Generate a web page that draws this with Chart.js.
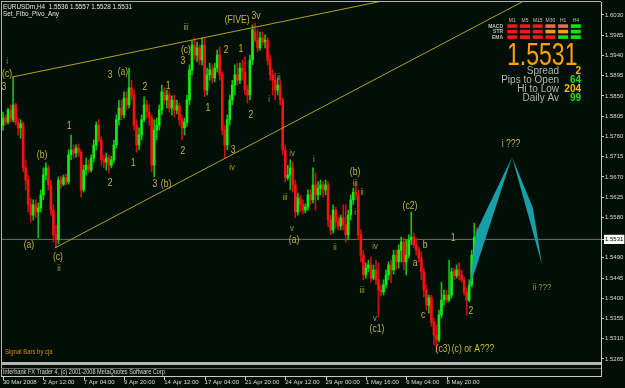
<!DOCTYPE html>
<html><head><meta charset="utf-8">
<script src="https://cdn.jsdelivr.net/npm/chart.js@4.4.1/dist/chart.umd.min.js"></script>
<style>html,body{margin:0;padding:0;background:#020f07;overflow:hidden}#wrap{width:625px;height:388px;position:relative}</style>
</head><body><div id="wrap"><canvas id="c" width="625" height="388"></canvas></div>
<script>
// ---- data (EURUSDm, H4) ----
const opens = [1.5785,1.5801,1.5792,1.5819,1.5797,1.5830,1.5792,1.5779,1.5788,1.5690,1.5663,1.5608,1.5585,1.5608,1.5592,1.5601,1.5630,1.5674,1.5690,1.5652,
1.5596,1.5541,1.5530,1.5663,1.5654,1.5668,1.5659,1.5719,1.5730,1.5723,1.5734,1.5725,1.5641,1.5685,1.5696,1.5685,1.5712,1.5741,1.5785,1.5752,
1.5708,1.5703,1.5712,1.5696,1.5708,1.5741,1.5797,1.5823,1.5808,1.5845,1.5830,1.5868,1.5852,1.5785,1.5741,1.5763,1.5797,1.5830,1.5814,1.5801,
1.5696,1.5774,1.5785,1.5819,1.5859,1.5841,1.5852,1.5823,1.5841,1.5819,1.5828,1.5797,1.5779,1.5792,1.5841,1.5908,1.5963,1.5941,1.5957,1.5930,
1.5963,1.5863,1.5897,1.5908,1.5890,1.5912,1.5941,1.5897,1.5774,1.5741,1.5797,1.5841,1.5874,1.5897,1.5885,1.5912,1.5903,1.5863,1.5852,1.5930,
1.5992,1.5974,1.5957,1.5979,1.5970,1.5974,1.5930,1.5897,1.5885,1.5863,1.5874,1.5841,1.5730,1.5668,1.5674,1.5690,1.5652,1.5592,1.5623,1.5608,
1.5596,1.5603,1.5630,1.5619,1.5652,1.5630,1.5645,1.5652,1.5641,1.5652,1.5574,1.5552,1.5596,1.5570,1.5561,1.5579,1.5563,1.5541,1.5585,1.5619,
1.5636,1.5630,1.5541,1.5496,1.5452,1.5467,1.5474,1.5445,1.5463,1.5441,1.5418,1.5414,1.5430,1.5452,1.5474,1.5463,1.5496,1.5481,1.5507,1.5525,
1.5481,1.5496,1.5530,1.5536,1.5519,1.5507,1.5490,1.5459,1.5418,1.5385,1.5401,1.5347,1.5318,1.5307,1.5363,1.5396,1.5407,1.5396,1.5407,1.5459,
1.5450,1.5463,1.5452,1.5441,1.5414,1.5396,1.5430,1.5496,1.5536];
const highs = [1.5814,1.5808,1.5823,1.5830,1.5892,1.5834,1.5801,1.5797,1.5792,1.5708,1.5674,1.5623,1.5619,1.5619,1.5612,1.5641,1.5690,1.5701,1.5696,1.5663,
1.5608,1.5563,1.5670,1.5672,1.5674,1.5676,1.5730,1.5763,1.5741,1.5741,1.5743,1.5730,1.5696,1.5712,1.5708,1.5719,1.5752,1.5792,1.5797,1.5759,
1.5719,1.5723,1.5719,1.5716,1.5752,1.5808,1.5841,1.5841,1.5859,1.5859,1.5912,1.5885,1.5863,1.5797,1.5779,1.5808,1.5848,1.5841,1.5830,1.5808,
1.5797,1.5801,1.5830,1.5874,1.5868,1.5863,1.5859,1.5850,1.5852,1.5841,1.5834,1.5808,1.5801,1.5852,1.5919,1.5974,1.5979,1.5970,1.5963,1.5979,
1.5979,1.5912,1.5923,1.5919,1.5923,1.5952,1.5959,1.5903,1.5785,1.5808,1.5852,1.5885,1.5919,1.5923,1.5923,1.5930,1.5937,1.5874,1.5941,1.6008,
1.6012,1.5997,1.5992,1.5992,1.5986,1.5979,1.5941,1.5908,1.5901,1.5890,1.5885,1.5845,1.5741,1.5696,1.5708,1.5703,1.5663,1.5634,1.5630,1.5619,
1.5610,1.5641,1.5641,1.5690,1.5679,1.5659,1.5663,1.5659,1.5663,1.5659,1.5585,1.5608,1.5603,1.5581,1.5585,1.5608,1.5608,1.5596,1.5630,1.5645,
1.5659,1.5641,1.5552,1.5507,1.5479,1.5485,1.5492,1.5474,1.5485,1.5479,1.5430,1.5441,1.5463,1.5481,1.5485,1.5507,1.5507,1.5519,1.5536,1.5534,
1.5530,1.5541,1.5592,1.5545,1.5534,1.5514,1.5503,1.5467,1.5430,1.5407,1.5407,1.5356,1.5341,1.5374,1.5436,1.5418,1.5418,1.5485,1.5467,1.5467,
1.5474,1.5479,1.5463,1.5447,1.5423,1.5441,1.5507,1.5567,1.5557];
const lows = [1.5774,1.5785,1.5788,1.5792,1.5792,1.5785,1.5763,1.5756,1.5681,1.5641,1.5592,1.5570,1.5574,1.5579,1.5534,1.5592,1.5619,1.5663,1.5641,1.5585,
1.5525,1.5512,1.5521,1.5645,1.5650,1.5652,1.5654,1.5708,1.5712,1.5714,1.5716,1.5625,1.5636,1.5674,1.5679,1.5681,1.5703,1.5730,1.5748,1.5696,
1.5690,1.5685,1.5679,1.5690,1.5701,1.5734,1.5785,1.5797,1.5801,1.5819,1.5823,1.5841,1.5774,1.5725,1.5730,1.5752,1.5792,1.5801,1.5785,1.5681,
1.5670,1.5752,1.5774,1.5808,1.5830,1.5823,1.5814,1.5808,1.5803,1.5810,1.5785,1.5752,1.5763,1.5783,1.5830,1.5897,1.5930,1.5926,1.5919,1.5919,
1.5848,1.5852,1.5885,1.5879,1.5881,1.5903,1.5885,1.5763,1.5712,1.5730,1.5785,1.5830,1.5852,1.5874,1.5877,1.5885,1.5852,1.5834,1.5841,1.5919,
1.5970,1.5948,1.5952,1.5963,1.5957,1.5919,1.5885,1.5852,1.5841,1.5852,1.5830,1.5719,1.5659,1.5663,1.5641,1.5636,1.5579,1.5585,1.5592,1.5587,
1.5590,1.5596,1.5608,1.5612,1.5596,1.5619,1.5630,1.5625,1.5630,1.5559,1.5541,1.5545,1.5556,1.5552,1.5552,1.5552,1.5525,1.5530,1.5574,1.5608,
1.5619,1.5530,1.5481,1.5441,1.5445,1.5459,1.5436,1.5441,1.5430,1.5358,1.5405,1.5407,1.5423,1.5441,1.5434,1.5454,1.5463,1.5467,1.5481,1.5463,
1.5452,1.5490,1.5519,1.5512,1.5496,1.5481,1.5441,1.5403,1.5374,1.5367,1.5338,1.5296,1.5281,1.5303,1.5356,1.5385,1.5390,1.5392,1.5401,1.5441,
1.5445,1.5441,1.5436,1.5407,1.5363,1.5392,1.5425,1.5490,1.5528];
const closes = [1.5801,1.5792,1.5819,1.5801,1.5830,1.5792,1.5779,1.5788,1.5690,1.5663,1.5608,1.5585,1.5608,1.5592,1.5601,1.5630,1.5674,1.5690,1.5652,1.5596,
1.5541,1.5530,1.5663,1.5654,1.5668,1.5659,1.5719,1.5730,1.5723,1.5734,1.5725,1.5641,1.5685,1.5696,1.5685,1.5712,1.5741,1.5785,1.5752,1.5708,
1.5703,1.5712,1.5696,1.5708,1.5741,1.5797,1.5823,1.5808,1.5845,1.5830,1.5868,1.5852,1.5785,1.5741,1.5763,1.5797,1.5830,1.5814,1.5801,1.5696,
1.5774,1.5785,1.5819,1.5859,1.5841,1.5852,1.5823,1.5841,1.5819,1.5828,1.5797,1.5779,1.5792,1.5841,1.5908,1.5963,1.5941,1.5957,1.5930,1.5963,
1.5863,1.5897,1.5908,1.5890,1.5912,1.5941,1.5897,1.5774,1.5741,1.5797,1.5841,1.5874,1.5897,1.5885,1.5912,1.5903,1.5863,1.5852,1.5930,1.5997,
1.5974,1.5957,1.5979,1.5970,1.5974,1.5930,1.5897,1.5885,1.5863,1.5874,1.5841,1.5730,1.5668,1.5674,1.5690,1.5652,1.5592,1.5623,1.5608,1.5596,
1.5603,1.5630,1.5619,1.5652,1.5630,1.5645,1.5652,1.5641,1.5652,1.5574,1.5552,1.5596,1.5570,1.5561,1.5579,1.5563,1.5541,1.5585,1.5619,1.5636,
1.5630,1.5541,1.5496,1.5452,1.5467,1.5474,1.5445,1.5463,1.5441,1.5418,1.5414,1.5430,1.5452,1.5474,1.5463,1.5496,1.5481,1.5507,1.5525,1.5481,
1.5496,1.5530,1.5536,1.5519,1.5507,1.5490,1.5459,1.5418,1.5385,1.5401,1.5347,1.5318,1.5307,1.5363,1.5396,1.5407,1.5396,1.5407,1.5459,1.5450,
1.5463,1.5452,1.5441,1.5414,1.5396,1.5430,1.5496,1.5536,1.5531];

const dateTicks = ["30 Mar 2008","2 Apr 12:00","7 Apr 04:00","9 Apr 20:00","14 Apr 12:00","17 Apr 04:00","21 Apr 20:00","24 Apr 12:00","29 Apr 00:00","1 May 16:00","6 May 04:00","8 May 20:00"];
const dateTickBars = [0,16,32,48,64,80,96,112,128,144,160,176];
const priceTicks = [1.6030,1.5985,1.5940,1.5895,1.5850,1.5805,1.5760,1.5715,1.5670,1.5625,1.5580,1.5531,1.5490,1.5445,1.5400,1.5355,1.5310,1.5265];
const lastPrice = 1.5531;

// trendlines and projection fans (bar index, price)
const upperTrend = [{x:3.6,y:1.5892},{x:200,y:1.6118}];
const lowerTrend = [{x:20.6,y:1.5512},{x:210,y:1.6071}];
const fanUp = [{x:185.3,y:1.5427},{x:202.0,y:1.5714},{x:187.7,y:1.5547},{x:185.3,y:1.5427}];
const fanDown = [{x:202.0,y:1.5714},{x:213.9,y:1.5474},{x:210.3,y:1.5601},{x:202.0,y:1.5714}];

// wave labels: text, bar index, price, minor(1)/major(0)
const waveLabels = [
["i",1.6,1.5926,1],["(c)",1.6,1.5899,0],["3",0.4,1.5870,0],["(b)",15.5,1.5719,0],["(a)",10.3,1.5519,0],["(c)",21.8,1.5492,0],["ii",22.2,1.5467,1],
["1",26.2,1.5783,0],["2",42.5,1.5656,0],["3",42.5,1.5897,0],["(a)",47.6,1.5903,0],["2",56.3,1.5870,0],["1",51.6,1.5701,0],["3",60.3,1.5654,0],
["(b)",64.7,1.5654,0],["1",65.5,1.5872,0],["2",71.4,1.5728,0],["(c)",72.6,1.5952,0],["3",71.4,1.5928,0],["iii",72.6,1.6003,1],["1",81.3,1.5823,0],
["2",88.5,1.5952,0],["1",94.4,1.5954,0],["2",98.4,1.5808,0],["(FIVE)",92.9,1.6019,0],["3v",100.4,1.6028,0],["i",105.6,1.5841,1],["ii",109.5,1.5892,1],
["3",91.3,1.5730,0],["iv",90.9,1.5690,1],["iv",114.7,1.5721,1],["iii",111.9,1.5623,1],["v",114.7,1.5556,1],["(a)",115.5,1.5530,0],["i",123.4,1.5708,1],
["(b)",139.7,1.5681,0],["iii",139.7,1.5656,1],["ii",142.5,1.5636,1],["i",139.7,1.5590,1],["ii",131.7,1.5514,1],["iv",147.6,1.5516,1],["iii",142.5,1.5418,1],
["v",147.6,1.5356,1],["(c1)",148.4,1.5332,0],["(c2)",161.5,1.5605,0],["b",167.5,1.5519,0],["a",163.5,1.5479,0],["c",166.7,1.5363,0],["1",178.6,1.5534,0],
["2",185.7,1.5372,0],["(c3)",174.6,1.5287,0],["(c) or A???",186.5,1.5287,0],["i ???",201.6,1.5743,0],["ii ???",213.9,1.5425,1]
];

// info panel
const tfNames = ["M1","M5","M15","M30","H1","H4"];
const rowNames = ["MACD","STR","EMA"];
const signalRows = [["r","r","r","s","s","g"],["r","r","r","o","o","g"],["r","r","r","r","g","g"]];
const infoNames = ["Spread","Pips to Open","Hi to Low","Daily Av"];
const infoValues = ["2","64","204","99"];
const infoKinds = ["y","g","y","g"];
const headerText = "EURUSDm,H4  1.5536 1.5557 1.5528 1.5531";
const indicatorText = "Set_Fibo_Pivo_Any";
const subText = "Interbank FX Trader 4, (c) 2001-2008 MetaQuotes Software Corp.";
const signalText = "Signal Bars by cja";

// ---- drawing ----
const BG = '#020f07';
const FONT = '"Liberation Sans", Arial, sans-serif';
const idx = closes.map((_, i) => i);
const bull = idx.map(i => closes[i] >= opens[i]);

function T(ctx, s, x, y, o) {
  ctx.save();
  ctx.font = (o.bold ? 'bold ' : '') + o.size + 'px ' + (o.family || FONT);
  ctx.fillStyle = o.color; ctx.textAlign = o.align || 'left'; ctx.textBaseline = o.base || 'middle';
  ctx.translate(x, y); ctx.scale(o.sx || 1, 1); ctx.fillText(s, 0, 0);
  ctx.restore();
}

const mtPlugin = {
  id: 'mt',
  beforeDraw(chart) {
    const c = chart.ctx; c.save(); c.fillStyle = BG; c.fillRect(0, 0, chart.width, chart.height); c.restore();
  },
  afterDatasetsDraw(chart) {
    const c = chart.ctx, xs = chart.scales.x, ys = chart.scales.y, a = chart.chartArea;
    c.save();
    c.beginPath(); c.rect(a.left, a.top, a.right - a.left, a.bottom - a.top); c.clip();
    for (const [t, b, p, minor] of waveLabels) {
      T(c, t, xs.getPixelForValue(b), ys.getPixelForValue(p), {size: minor ? 9 : 10, sx: 0.86, color: minor ? '#a39a2c' : '#c9b43a', align: 'center'});
    }
    c.restore();
  },
  afterDraw(chart) {
    const c = chart.ctx, xs = chart.scales.x;
    c.save();
    c.fillStyle = '#b4b4b4';
    c.fillRect(1, 1, 600, 1);
    c.fillRect(1, 1, 1, 376);
    c.fillRect(1, 362, 601, 3);
    c.fillStyle = '#6a6a6a'; c.fillRect(1, 368, 601, 1);
    c.fillStyle = '#c8c8c8'; c.fillRect(1, 376, 601, 1); c.fillRect(601, 362, 1, 15);
    for (const v of dateTickBars) { const x = Math.round(xs.getPixelForValue(v)); c.fillRect(x, 377, 1, 3); }
    c.restore();
    T(c, subText, 3, 372.5, {size: 7, sx: 0.8, color: '#d8d8d8'});
    T(c, headerText, 3, 6.5, {size: 7.5, sx: 0.85, color: '#e8e8e8'});
    T(c, indicatorText, 3, 13.5, {size: 7.5, sx: 0.85, color: '#e8e8e8'});
    T(c, signalText, 5, 352, {size: 7, sx: 0.85, color: '#e08a00'});
    const col = {r: '#f01a1a', s: '#f06a50', o: '#f0a018', g: '#18e018'};
    for (let k = 0; k < tfNames.length; k++) {
      const cx = 512.3 + k * 12.7;
      T(c, tfNames[k], cx, 20.8, {size: 5.5, sx: 0.9, color: '#c0c0c0', align: 'center'});
      for (let r = 0; r < 3; r++) {
        c.fillStyle = col[signalRows[r][k]];
        c.fillRect(cx - 5, 24.3 + r * 5.5, 10, 3.6);
      }
    }
    for (let r = 0; r < 3; r++) T(c, rowNames[r], 503, 26.2 + r * 5.5, {size: 5.5, sx: 0.9, bold: true, color: '#c0c0c0', align: 'right'});
    T(c, lastPrice.toFixed(4), 507, 65, {size: 32, sx: 0.72, color: '#ffa200', base: 'alphabetic'});
    for (let r = 0; r < infoNames.length; r++) {
      const y = 71 + r * 9.2;
      T(c, infoNames[r], 559, y, {size: 10, color: '#b4b4b4', align: 'right'});
      T(c, infoValues[r], 581, y, {size: 10, bold: true, color: infoKinds[r] === 'y' ? '#f0c000' : '#18e018', align: 'right'});
    }
  }
};

new Chart(document.getElementById('c'), {
  type: 'bar',
  data: {
    datasets: [
      {type: 'line', data: [{x: -0.4, y: lastPrice}, {x: 237.3, y: lastPrice}], borderColor: '#6e6e6e', borderWidth: 1, pointRadius: 0, order: 9},
      {type: 'bar', data: idx.map(i => ({x: i, y: [lows[i], highs[i]]})), backgroundColor: idx.map(i => bull[i] ? '#14c014' : '#cc1010'), barThickness: 1, grouped: false, borderWidth: 0, order: 8},
      {type: 'bar', data: idx.map(i => ({x: i, y: [opens[i], closes[i]]})), backgroundColor: idx.map(i => bull[i] ? '#12ec12' : '#f41212'), barThickness: 2, grouped: false, borderWidth: 0, minBarLength: 1, order: 7},
      {type: 'line', data: fanUp, borderWidth: 0, borderColor: 'rgba(0,0,0,0)', backgroundColor: '#17a0a7', fill: 'shape', pointRadius: 0, order: 5},
      {type: 'line', data: fanDown, borderWidth: 0, borderColor: 'rgba(0,0,0,0)', backgroundColor: '#17a0a7', fill: 'shape', pointRadius: 0, order: 5},
      {type: 'line', data: upperTrend, borderColor: '#b2a31e', borderWidth: 1, pointRadius: 0, fill: false, order: 3},
      {type: 'line', data: lowerTrend, borderColor: '#b2a31e', borderWidth: 1, pointRadius: 0, fill: false, order: 3}
    ]
  },
  options: {
    responsive: false, animation: false, devicePixelRatio: 1,
    layout: {padding: {left: 2, top: 2, right: 0, bottom: 0}},
    plugins: {legend: {display: false}, tooltip: {enabled: false}},
    scales: {
      x: {
        type: 'linear', min: -0.4, max: 237.3, offset: false,
        grid: {display: false, drawTicks: false, offset: false}, border: {display: false},
        afterBuildTicks: s => { s.ticks = dateTickBars.map(v => ({value: v})); },
        afterFit: s => { s.height = 26; s.paddingLeft = 0; s.paddingRight = 0; },
        ticks: {autoSkip: false, maxRotation: 0, minRotation: 0, align: 'start', padding: 17, color: '#dcdcdc',
          font: {size: 6, family: FONT}, callback: (v, i) => dateTicks[i] ?? ''}
      },
      y: {
        position: 'right', min: 1.52583, max: 1.60589,
        afterBuildTicks: s => { s.ticks = priceTicks.map(v => ({value: v})); },
        afterFit: s => { s.width = 24; s.paddingTop = 0; s.paddingBottom = 0; },
        grid: {drawOnChartArea: false, drawTicks: true, tickLength: 3, color: '#c8c8c8'},
        border: {display: true, color: '#c8c8c8'},
        ticks: {autoSkip: false, padding: 1, font: {size: 6, family: FONT},
          color: ctx => ctx.tick && ctx.tick.value === lastPrice ? '#000000' : '#dcdcdc',
          showLabelBackdrop: ctx => !!(ctx.tick && ctx.tick.value === lastPrice),
          backdropColor: '#ffffff', backdropPadding: {top: 1, bottom: 1, left: 1, right: 1},
          callback: v => Number(v).toFixed(4)}
      }
    }
  },
  plugins: [mtPlugin]
});
</script>
</body></html>
